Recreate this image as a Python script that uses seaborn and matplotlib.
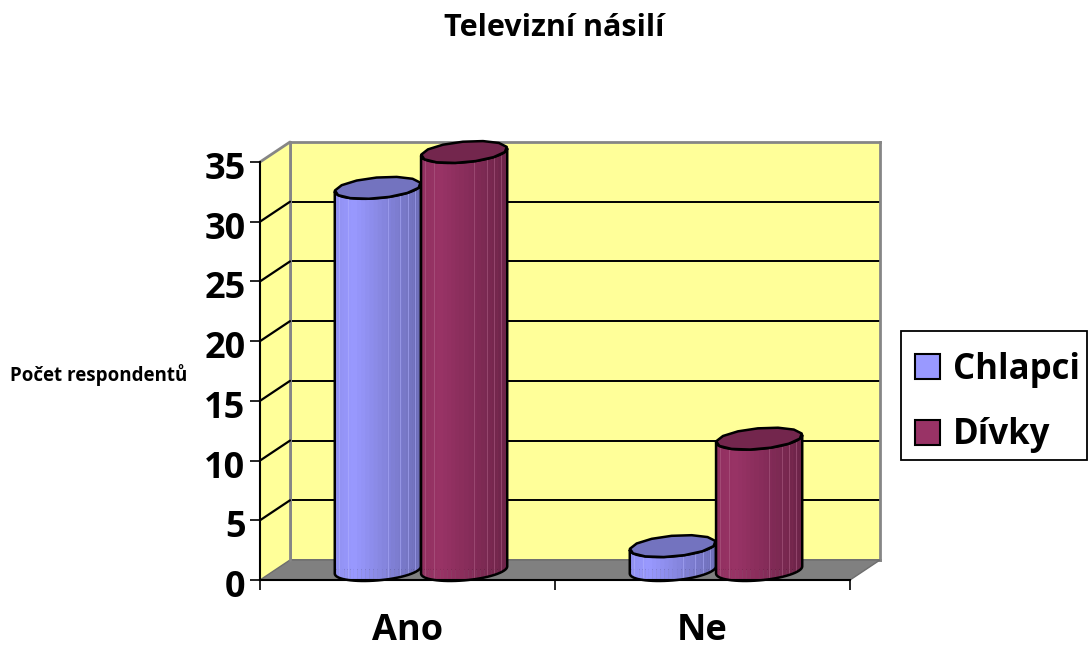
import numpy as np
import pandas as pd
import matplotlib
matplotlib.use("Agg")
import matplotlib.pyplot as plt
from matplotlib.colors import to_rgb
from matplotlib.patches import Polygon, Rectangle
from matplotlib.transforms import ScaledTranslation
import seaborn as sns

categories = ["Ano", "Ne"]
series = ["Chlapci", "Dívky"]
chlapci = [32, 2]
divky = [35, 11]
y_ticks = [0, 5, 10, 15, 20, 25, 30, 35]
colors = ["#9999ff", "#993366"]

W, H = 1088, 648
DEPTH_X, DEPTH_Y = 30, 20

sns.set_theme(style="white")
plt.rcParams["font.family"] = ["Open Sans", "DejaVu Sans"]
plt.rcParams["font.weight"] = "bold"

df = pd.DataFrame({
    "odpoved": categories * 2,
    "pohlavi": [series[0]] * 2 + [series[1]] * 2,
    "pocet": chlapci + divky,
})


def add_axes_px(fig, left, top, right, bottom, **kw):
    return fig.add_axes([left / W, 1 - bottom / H, (right - left) / W, (bottom - top) / H], **kw)


fig = plt.figure(figsize=(W / 100, H / 100), dpi=100, facecolor="white")

# back wall
ax_back = add_axes_px(fig, 290, 142, 880, 560, facecolor="#ffff99", zorder=0)
ax_back.set_ylim(0, 35)
ax_back.set_xlim(0, 1)
ax_back.set_yticks(y_ticks)
ax_back.set_xticks([])
ax_back.set_yticklabels([])
ax_back.grid(axis="y", color="black", lw=1.4)
ax_back.tick_params(left=False)
for s in ax_back.spines.values():
    s.set_color("#868686")
    s.set_linewidth(2)

# side wall and floor, in pixels
ax_px = fig.add_axes([0, 0, 1, 1], zorder=1, facecolor="none")
ax_px.set_xlim(0, W)
ax_px.set_ylim(H, 0)
ax_px.axis("off")
ax_px.add_patch(Polygon([(260, 162), (290, 142), (290, 560), (260, 580)], fc="#ffff99", ec="none"))
ax_px.add_patch(Polygon([(260, 580), (290, 560), (880, 560), (850, 580)], fc="#808080", ec="#6e6e6e", lw=1))
ax_px.plot([260, 290], [162, 142], color="#868686", lw=2)
ax_px.plot([290, 290], [142, 560], color="#868686", lw=2)
for v in y_ticks[1:-1]:
    yp = 580 - v * 418 / 35
    ax_px.plot([260, 290], [yp, yp - DEPTH_Y], color="black", lw=1.6)
# legend frame
ax_px.add_patch(Rectangle((901, 331), 186, 129, fc="white", ec="black", lw=1.3))

# bars live on the middle plane of the 3d box
ax_bars = add_axes_px(fig, 273.5, 152, 863.5, 570, facecolor="none", zorder=2)
sns.barplot(data=df, x="odpoved", y="pocet", hue="pohlavi", order=categories, hue_order=series,
            palette=colors, saturation=1, width=0.585, gap=0, edgecolor="black", linewidth=1.5, ax=ax_bars)
ax_bars.set_xlim(-0.5, 1.5)
ax_bars.set_ylim(0, 35)
handles, labels = ax_bars.get_legend_handles_labels()
ax_bars.get_legend().remove()
ax_bars.axis("off")

seams = [0.05, 0.15, 0.62, 0.76, 0.85, 0.93]


def shade(f):
    if f < 0.2:
        return 0.94 + 0.3 * f
    return 1.0 - 0.3 * (f - 0.2) / 0.8


def draw_cylinder(ax, bar, base, z):
    half = bar.get_width() / 2
    cx = bar.get_x() + half
    h = bar.get_height()
    ux, vx = half * 0.944, half * 0.326
    vy = 11 * 35 / 418
    base = np.array(base)
    t0 = np.arctan2(vx, ux)
    ts = np.linspace(t0 + np.pi, t0 + 2 * np.pi, 33)
    xs = cx + ux * np.cos(ts) + vx * np.sin(ts)
    low = vy * np.sin(ts)
    outline = Polygon(np.r_[np.c_[xs, low], np.c_[xs[::-1], h + low[::-1]]], closed=True, fc="none",
                      ec="black", lw=1.8, zorder=z + 0.3, clip_on=False, joinstyle="round")
    ax.add_patch(outline)
    bar.set_clip_path(outline)
    bar.set_zorder(z)
    fr = (xs - xs[0]) / (xs[-1] - xs[0])
    for i in range(len(xs) - 1):
        col = np.clip(base * shade(fr[i]), 0, 1)
        ax.fill([xs[i], xs[i + 1], xs[i + 1], xs[i]], [low[i], low[i + 1], h + low[i + 1], h + low[i]],
                color=col, lw=0.2, zorder=z + 0.1, clip_on=False)
    for f in seams:
        k = np.interp(f, fr, np.arange(len(fr)))
        x = np.interp(k, np.arange(len(xs)), xs)
        y = np.interp(k, np.arange(len(xs)), low)
        ax.plot([x, x], [y, y + h], color=np.clip(base * 0.75 + 0.25, 0, 1), lw=0.7, alpha=0.5,
                zorder=z + 0.2, clip_on=False)
    tt = np.linspace(0, 2 * np.pi, 14)
    top = np.c_[cx + ux * np.cos(tt) + vx * np.sin(tt), h + vy * np.sin(tt)]
    ax.add_patch(Polygon(top, closed=True, fc=base * 0.75, ec="black", lw=1.8, zorder=z + 0.4,
                         clip_on=False, joinstyle="round"))


for i, cont in enumerate(ax_bars.containers):
    for bar in cont:
        draw_cylinder(ax_bars, bar, to_rgb(colors[i]), 2 + i)

# front axis with the labels
ax_front = add_axes_px(fig, 260, 162, 850, 580, facecolor="none", zorder=3)
ax_front.set_xlim(-0.5, 1.5)
ax_front.set_ylim(0, 35)
ax_front.set_yticks(y_ticks)
ax_front.set_yticklabels(y_ticks, fontsize=26, fontweight="bold", color="black")
ax_front.set_xticks([0, 1])
ax_front.set_xticklabels(categories, fontsize=26, fontweight="bold", color="black")
ax_front.set_xticks([-0.5, 0.5, 1.5], minor=True)
ax_front.tick_params(axis="x", which="major", length=0, pad=24)
ax_front.tick_params(axis="x", which="minor", length=7.5, width=1.2, color="black", bottom=True)
ax_front.tick_params(axis="y", length=7.5, width=1.2, color="black", left=True, pad=3)
shift = ScaledTranslation(0, -2.5 / 72, fig.dpi_scale_trans)
for lab in ax_front.get_yticklabels():
    lab.set_transform(lab.get_transform() + shift)
for side in ["top", "right"]:
    ax_front.spines[side].set_visible(False)
for side in ["left", "bottom"]:
    ax_front.spines[side].set_color("black")
    ax_front.spines[side].set_linewidth(1.5)

fig.text(554 / W, 1 - 28 / H, "Televizní násilí", ha="center", va="center", fontsize=22, fontweight="bold", color="black")
fig.text(10 / W, 1 - 375 / H, "Počet respondentů", ha="left", va="center", fontsize=13.5, fontweight="bold", color="black")

leg = fig.legend(handles, labels, loc="center", bbox_to_anchor=(997.5 / W, 1 - 402.5 / H), frameon=False,
                 fontsize=25, handlelength=0.72, handleheight=0.72,
                 handletextpad=0.36, labelspacing=0.85, borderpad=0.4, borderaxespad=0)
leg.set_zorder(5)
for t in leg.get_texts():
    t.set_fontweight("bold")
    t.set_color("black")

fig.savefig("out.png", dpi=100)
